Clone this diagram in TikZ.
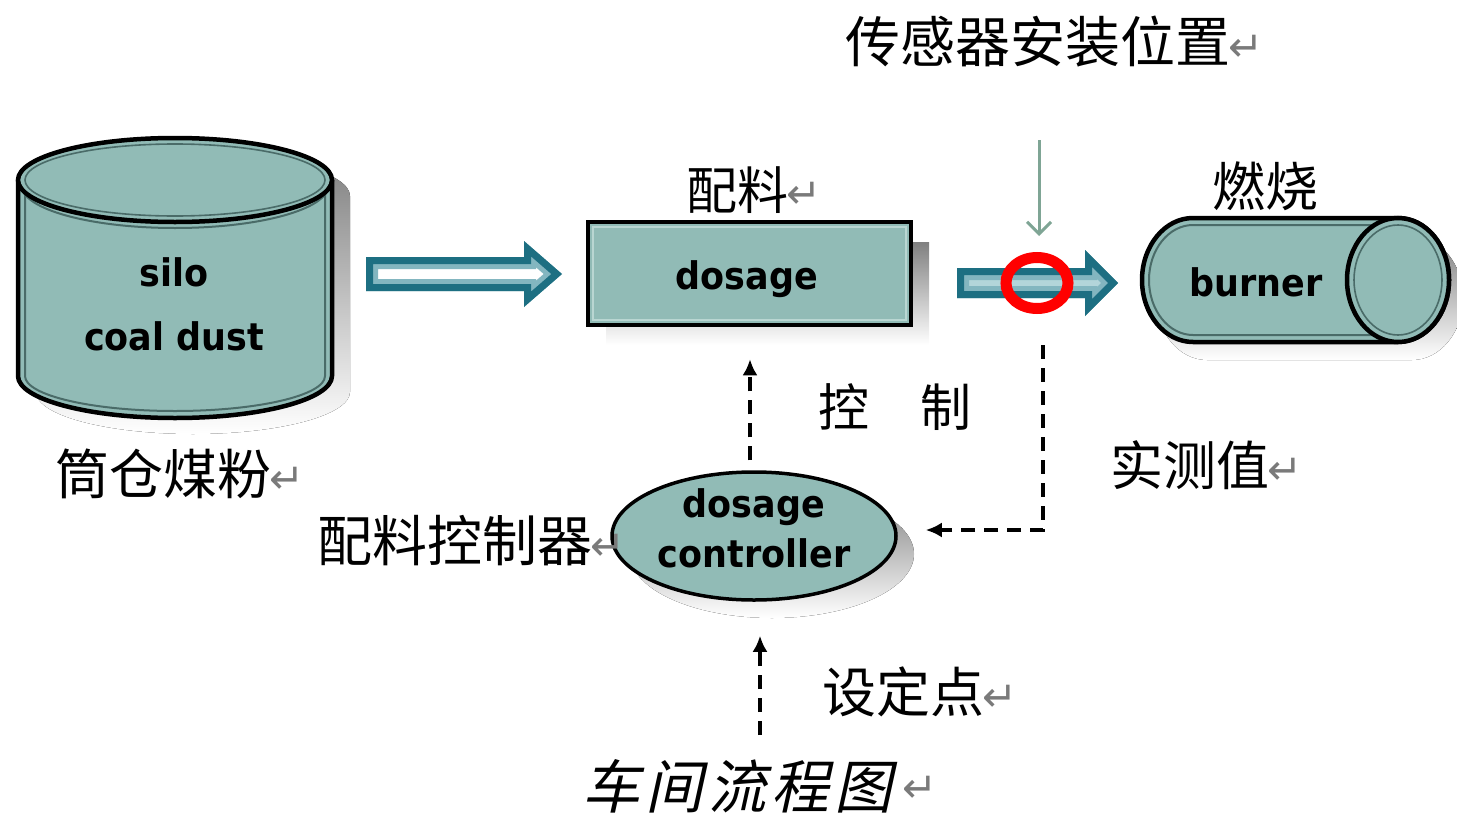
\documentclass[tikz,border=0pt]{standalone}
\usepackage{fontspec}
\usetikzlibrary{arrows.meta,shapes.geometric}

\newfontfamily\cjk{Noto Sans CJK SC}
\newfontfamily\cjksl{Noto Sans CJK SC}[FakeSlant=0.22]
\newfontfamily\lab{DejaVu Sans}[FakeStretch=0.92]
\newfontfamily\symf{DejaVu Sans}

\definecolor{bodyfill}{HTML}{91BBB6}
\definecolor{rimdark}{HTML}{4A6B68}
\definecolor{rimlight}{HTML}{B9D6D2}
\definecolor{shade}{HTML}{C4C4C4}
\definecolor{arrdark}{HTML}{1D6F82}
\definecolor{arrmid}{HTML}{83B6C0}
\definecolor{arrcore}{HTML}{B3D5DA}
\definecolor{pointer}{HTML}{7FA595}
\definecolor{retgray}{HTML}{7A7A7A}

% Word-style paragraph mark after a label
\newcommand\retmark{{\symf\fontsize{42}{42}\selectfont\textcolor{retgray}{\kern-2pt\raisebox{1pt}{↵}}}}

% hollow block arrow: #1 x start, #2 x tip, #3 y centre,
% #4 shaft half height, #5 head half height, #6 head length, #7 core colour
\newcommand\hollowarrow[7]{%
  \def\arrpath{(#1,#3-#4) -- (#2-#6,#3-#4) -- (#2-#6,#3-#5) -- (#2,#3)
    -- (#2-#6,#3+#5) -- (#2-#6,#3+#4) -- (#1,#3+#4) -- cycle}%
  \begin{scope}
    \clip \arrpath;
    \fill[#7] \arrpath;
    \draw[arrmid, line width=24, line join=miter] \arrpath;
    \draw[arrdark, line width=14, line join=miter] \arrpath;
  \end{scope}}

\tikzset{
  cnlabel/.style={anchor=west, inner sep=0pt, font=\cjk\fontsize{#1}{#1}\selectfont},
  entext/.style={inner sep=0pt, anchor=base, font=\lab\bfseries\fontsize{38}{38}\selectfont},
  outline/.style={draw=black, line width=4.5},
  innerline/.style={draw=rimdark, line width=2},
  box/.style={rectangle, fill=bodyfill, outline, minimum width=323, minimum height=103,
    inner sep=0pt},
  ctrlshape/.style={ellipse, fill=bodyfill, draw=black, line width=3.5,
    minimum width=284, minimum height=128, inner sep=0pt},
  fb/.style={draw=black, line width=3.8, dash pattern=on 14pt off 9pt,
    -{Latex[length=16pt,width=15pt]}},
}

\begin{document}
\begin{tikzpicture}[x=1pt,y=-1pt]
\useasboundingbox (0,0) rectangle (1457,814);

% ---------- silo ----------
\begin{scope}[shift={(18,16)}]
  \fill[shade] (18,180) -- (18,376) arc[start angle=180,end angle=0,x radius=157,y radius=42]
    -- (332,180) arc[start angle=0,end angle=-180,x radius=157,y radius=42] -- cycle;
\end{scope}
\fill[bodyfill] (18,180) -- (18,376) arc[start angle=180,end angle=0,x radius=157,y radius=42]
  -- (332,180) arc[start angle=0,end angle=-180,x radius=157,y radius=42] -- cycle;
\draw[innerline] (25,190) -- (25,376) arc[start angle=180,end angle=0,x radius=150,y radius=35] -- (325,190);
\draw[innerline] (22,186) arc[start angle=180,end angle=0,x radius=153,y radius=42];
\draw[outline] (18,180) -- (18,376) arc[start angle=180,end angle=0,x radius=157,y radius=42] -- (332,180);
\draw[outline, fill=bodyfill] (175,180) ellipse[x radius=157,y radius=42];
\draw[innerline, line width=1.6] (175,180) ellipse[x radius=150,y radius=36];
\node[entext] (silo) at (174,286) {silo};
\node[entext] (dust) at (174,350) {coal dust};
\node[cnlabel=54] (siloLbl) at (55,474) {筒仓煤粉\retmark};

% ---------- feed arrow into dosage ----------
\hollowarrow{366}{562}{274}{17}{33}{38}{white}

% ---------- dosage ----------
\fill[shade] (606,242) rectangle (929,345);
\node[box] (dosage) at (749.5,273.5) {};
\draw[rimlight, line width=1.5] (593,227) rectangle (906,320);
\node[entext] (dosText) at (747,289) {dosage};
\node[cnlabel=51] (dosLbl) at (686,190) {配料\retmark};

% ---------- sensor arrow and ring ----------
\hollowarrow{957}{1118}{283}{15}{33}{33}{arrcore}
\node[ellipse, draw=red, line width=11, minimum width=62, minimum height=51, inner sep=0pt] (ring) at (1037,283) {};
\node[cnlabel=55] (sensLbl) at (845,42) {传感器安装位置\retmark};
\coordinate (pstart) at (1039,140);
\draw[pointer, line width=3, -{Straight Barb[length=12pt,width=24pt,line width=3pt]}, shorten >=16pt] (pstart) -- (pstart |- ring.north);

% ---------- burner ----------
\begin{scope}[shift={(14,18)}]
  \fill[shade] (1398,218) -- (1193,218) arc[start angle=-90,end angle=-270,x radius=51,y radius=62]
    -- (1398,342) arc[start angle=90,end angle=-90,x radius=51,y radius=62] -- cycle;
\end{scope}
\fill[bodyfill] (1398,218) -- (1193,218) arc[start angle=-90,end angle=-270,x radius=51,y radius=62]
  -- (1398,342) arc[start angle=90,end angle=-90,x radius=51,y radius=62] -- cycle;
\draw[innerline] (1398,225) -- (1193,225) arc[start angle=-90,end angle=-270,x radius=44,y radius=55] -- (1398,335);
\draw[outline] (1398,218) -- (1193,218) arc[start angle=-90,end angle=-270,x radius=51,y radius=62]
  -- (1398,342) arc[start angle=90,end angle=-90,x radius=51,y radius=62] -- cycle;
\draw[outline, fill=bodyfill] (1398,280) ellipse[x radius=51,y radius=62];
\draw[innerline, line width=1.6] (1398,280) ellipse[x radius=44,y radius=55];
\node[entext] (burner) at (1256,296) {burner};
\node[cnlabel=53] (burnLbl) at (1212,186) {燃烧};

% ---------- dosage controller ----------
\fill[shade] (772,554) ellipse[x radius=142,y radius=64];
\node[ctrlshape] (ctrl) at (754,536) {};
\node[entext] (ctrlA) at (754,517) {dosage};
\node[entext] (ctrlB) at (754,567) {controller};
\node[cnlabel=55] (ctrlLbl) at (317,541) {配料控制器\retmark};

% ---------- signal lines ----------
\coordinate (meas) at (1043,345);
\coordinate (ctrlIn) at ([xshift=28pt,yshift=6pt]ctrl.east);
\draw[fb] (meas) |- (ctrlIn);

\coordinate (ctrlOut) at ([xshift=-4pt,yshift=10pt]ctrl.north);
\coordinate (dosIn) at ([yshift=-32pt]dosage.south);
\draw[fb] (ctrlOut) -- (ctrlOut |- dosIn);

\coordinate (setp) at (760,735);
\coordinate (ctrlSet) at ([yshift=-34pt]ctrl.south);
\draw[fb] (setp) -- (setp |- ctrlSet);

% ---------- remaining labels ----------
\node[cnlabel=51] (ctlLbl) at (818,407) {控　制};
\node[cnlabel=53] (measLbl) at (1110,465) {实测值\retmark};
\node[cnlabel=54] (setLbl) at (822,692) {设定点\retmark};
\node[anchor=west, inner sep=0pt, font=\cjksl\fontsize{58}{58}\selectfont] (flowLbl) at (582,786)
  {车\kern5pt 间\kern5pt 流\kern5pt 程\kern5pt 图};
\node[anchor=west, inner sep=0pt] (flowMark) at ([xshift=12pt,yshift=-4pt]flowLbl.east) {\retmark};
\end{tikzpicture}
\end{document}
